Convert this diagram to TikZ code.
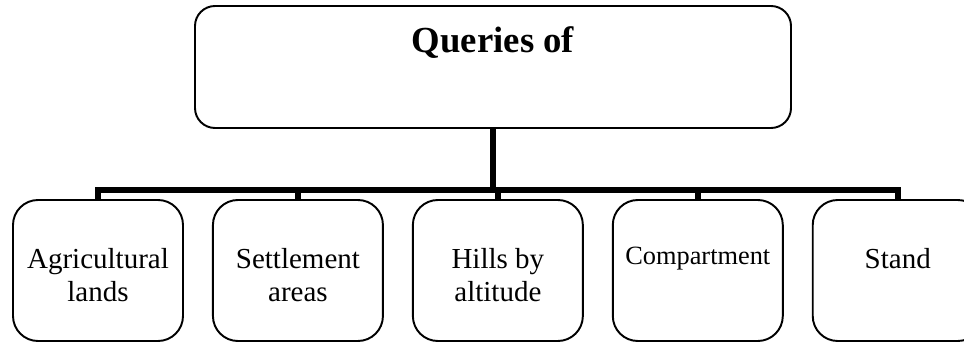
\documentclass[tikz,border=0pt]{standalone}
\usepackage{fontspec}
\setmainfont{Liberation Serif}
\usetikzlibrary{positioning}

\newcommand{\toppad}{\rule{0pt}{17pt}}

\tikzset{
    headbox/.style={draw, line width=1.1pt, rounded corners=0.4cm,
        minimum width=11.92cm, minimum height=2.44cm, align=center,
        font=\fontsize{20.9}{24}\selectfont\bfseries},
    leafbox/.style={draw, line width=1.1pt, rounded corners=0.5cm,
        minimum width=3.4cm, minimum height=2.82cm, align=center,
        font=\fontsize{16.5}{18.8}\selectfont},
    bus/.style={line width=3.2pt}
}

\begin{document}
\begin{tikzpicture}
            \useasboundingbox (0,0) rectangle (19.28,6.84);

            % Root
            \node[headbox] (top) at (9.86,5.50) {Queries of\\\strut};

            % Leaves
            \node[leafbox] (agri) at (1.96,1.43) {\toppad Agricultural\\lands};
            \node[leafbox, right=0.56cm of agri] (settle) {\toppad Settlement\\areas};
            \node[leafbox, right=0.56cm of settle] (hills) {\toppad Hills by\\altitude};
            \node[leafbox, right=0.56cm of hills, font=\fontsize{15}{17}\selectfont] (comp) {Compartment\\\mbox{}};
            \node[leafbox, right=0.56cm of comp] (stand) {\toppad Stand\\\mbox{}};

            % Tree lines
            \coordinate (bus) at (9.86,3.04);
            \foreach \n in {agri,settle,hills,comp,stand} {
                \draw[bus] (top.south) -- (bus) -| (\n.north);
            }
        \end{tikzpicture}
\end{document}
